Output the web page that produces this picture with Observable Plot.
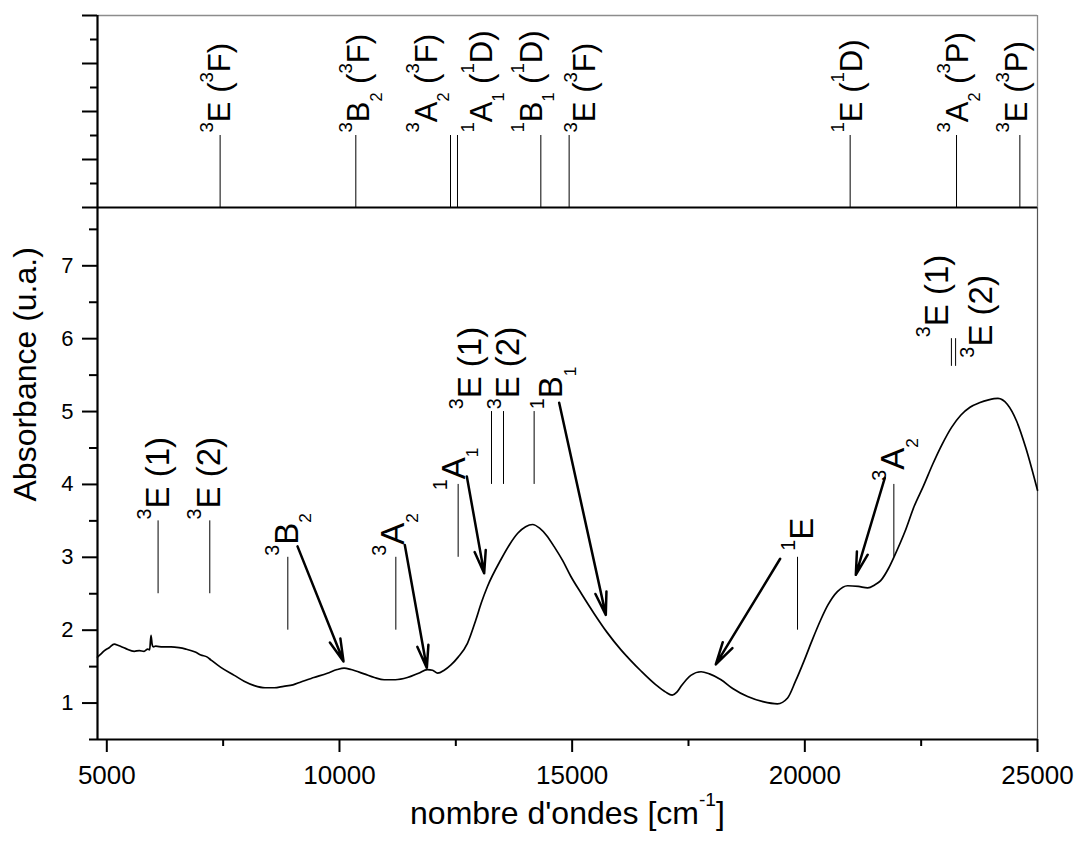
<!DOCTYPE html>
<html><head><meta charset="utf-8">
<script src="https://cdn.jsdelivr.net/npm/d3@7"></script>
<script src="https://cdn.jsdelivr.net/npm/@observablehq/plot@0.6"></script>
<style>
body{margin:0;background:#fff;}
#chart{position:relative;width:1076px;height:850px;font-family:"Liberation Sans",Arial,sans-serif;}
#chart svg{position:absolute;left:0;overflow:visible;}
</style></head><body><div id="chart"></div>
<script>
// ---- spectrum ----
const waveNumber = [4800, 4870, 4950, 5050, 5160, 5250, 5400, 5590, 5700, 5800,
  5880, 5920, 5950, 5975, 6000, 6050, 6200, 6380, 6550, 6700,
  6900, 7020, 7160, 7240, 7450, 7740, 7950, 8170, 8400, 8600,
  8800, 9000, 9170, 9450, 9740, 9950, 10100, 10250, 10530, 10750,
  10960, 11200, 11460, 11700, 11890, 12000, 12110, 12250, 12390, 12550,
  12750, 12930, 13050, 13180, 13470, 13650, 13830, 14000, 14150, 14300,
  14450, 14610, 14800, 14970, 15200, 15470, 15750, 16050, 16250, 16480,
  16800, 17010, 17150, 17250, 17340, 17550, 17770, 17950, 18200, 18450,
  18770, 19100, 19410, 19630, 19800, 19990, 20150, 20340, 20500, 20700,
  20920, 21150, 21350, 21500, 21630, 21800, 21920, 22150, 22350, 22550,
  22750, 22950, 23150, 23350, 23550, 23750, 23950, 24150, 24350, 24550,
  24750, 25000];
const absorbance = [1.63, 1.67, 1.72, 1.76, 1.81, 1.79, 1.75, 1.71, 1.72, 1.71,
  1.74, 1.73, 1.93, 1.80, 1.77, 1.78, 1.77, 1.77, 1.76, 1.74,
  1.70, 1.66, 1.63, 1.59, 1.49, 1.38, 1.30, 1.24, 1.21, 1.21,
  1.23, 1.25, 1.29, 1.35, 1.41, 1.46, 1.48, 1.46, 1.40, 1.35,
  1.32, 1.32, 1.35, 1.41, 1.46, 1.45, 1.41, 1.45, 1.52, 1.63,
  1.82, 2.14, 2.38, 2.60, 2.97, 3.17, 3.33, 3.42, 3.45, 3.40,
  3.30, 3.15, 2.95, 2.74, 2.50, 2.23, 1.97, 1.73, 1.59, 1.44,
  1.25, 1.15, 1.11, 1.15, 1.23, 1.38, 1.43, 1.40, 1.32, 1.20,
  1.09, 1.02, 0.99, 1.07, 1.30, 1.59, 1.85, 2.14, 2.35, 2.53,
  2.61, 2.60, 2.58, 2.62, 2.68, 2.85, 3.01, 3.35, 3.70, 3.98,
  4.28, 4.55, 4.78, 4.95, 5.06, 5.12, 5.16, 5.18, 5.10, 4.87,
  4.50, 3.92];

// ---- axes ----
const xTickValues = [5000, 10000, 15000, 20000, 25000];
const xMinorTicks = [7500, 12500, 17500, 22500];
const yTickValues = [1, 2, 3, 4, 5, 6, 7];
const yMinorTicks = [0.5, 1.5, 2.5, 3.5, 4.5, 5.5, 6.5, 7.5];
const topMajorTicks = [0, 1, 2, 3, 4];
const topMinorTicks = [0.5, 1.5, 2.5, 3.5];
const xTitle = "nombre d'ondes [cm^{-1}]";
const yTitle = "Absorbance (u.a.)";

// ---- top panel: calculated transitions ----
const topLinePos = [7435, 10351, 12386, 12536, 14327, 14935, 20974, 23260, 24621];
const topLabelPos = [7435, 10430, 11877, 13059, 14133, 15272, 21010, 23288, 24556];
const topLabels = ["^3E (^3F)", "^3B_2 (^3F)", "^3A_2 (^3F)", "^1A_1 (^1D)", "^1B_1 (^1D)",
  "^3E (^3F)", "^1E (^1D)", "^3A_2 (^3P)", "^3E (^3P)"];

// ---- bottom panel: assignments ----
const bandLinePos = [6102, 7213, 8890, 11211, 12550, 13267, 13525, 14183, 19843, 21913, 23150, 23240];
const bandLineLow = [2.5, 2.5, 2.0, 2.0, 3.0, 4.0, 4.0, 4.0, 2.0, 3.0, 5.62, 5.62];
const bandLineHigh = [3.5, 3.5, 3.0, 3.0, 4.0, 5.0, 5.0, 5.0, 3.0, 4.0, 6.0, 6.0];
const bandLabelPos = [6110, 7195, 8880, 11170, 12470, 12822, 13639, 14563, 19957, 21913, 22850, 23800];
const bandLabelY = [3.52, 3.52, 3.02, 3.02, 3.92, 5.03, 5.03, 5.03, 3.09, 4.05, 6.02, 5.74];
const bandLabels = ["^3E (1)", "^3E (2)", "^3B_2", "^3A_2", "^1A_1", "^3E (1)", "^3E (2)", "^1B_1",
  "^1E", "^3A_2", "^3E (1)", "^3E (2)"];

// ---- arrows ----
const arrowX1 = [9098, 11404, 12737, 14721, 19470, 21719];
const arrowY1 = [3.15, 3.17, 4.11, 5.12, 2.98, 4.09];
const arrowX2 = [10087, 11877, 13109, 15723, 18087, 21096];
const arrowY2 = [1.57, 1.48, 2.78, 2.21, 1.53, 2.76];

const FONT = "'Liberation Sans', Arial, sans-serif";
const xDomain = [4800, 25000];
const noLabel = () => "";

const topPlot = Plot.plot({
  width: 1076, height: 208,
  marginTop: 15, marginBottom: 1, marginLeft: 97, marginRight: 39,
  style: {background: "transparent", fontFamily: FONT, overflow: "visible"},
  x: {domain: xDomain, axis: null},
  y: {domain: [0, 4]},
  marks: [
    Plot.ruleY([4], {stroke: "#8c8c8c", strokeWidth: 1.3}),
    Plot.ruleX([25000], {stroke: "#8c8c8c", strokeWidth: 1.3}),
    Plot.ruleX(topLinePos, {x: d => d, y1: 0, y2: 1.5, stroke: "black", strokeWidth: 1}),
    Plot.text(topLabels, {x: topLabelPos, y: 1.5, text: d => d, rotate: -90, textAnchor: "start",
      dy: -3, fontSize: 31, fill: "black"}),
    Plot.axisY(topMajorTicks, {tickSize: 15, tickFormat: noLabel, strokeWidth: 2, label: null}),
    Plot.axisY(topMinorTicks, {tickSize: 7, tickFormat: noLabel, strokeWidth: 2, label: null}),
    Plot.ruleY([0], {stroke: "black", strokeWidth: 2.2}),
    Plot.ruleX([4800], {stroke: "black", strokeWidth: 2.2})
  ]
});

const bottomPlot = Plot.plot({
  width: 1076, height: 643,
  marginTop: 0, marginBottom: 111, marginLeft: 97, marginRight: 39,
  style: {background: "transparent", fontFamily: FONT, overflow: "visible"},
  x: {domain: xDomain},
  y: {domain: [0.5, 7.8]},
  marks: [
    Plot.ruleX([25000], {stroke: "#555", strokeWidth: 1.2}),
    Plot.line(absorbance, {x: waveNumber, y: absorbance, curve: "monotone-x", stroke: "black", strokeWidth: 1.7}),
    Plot.ruleX(bandLinePos, {x: d => d, y1: bandLineLow, y2: bandLineHigh, stroke: "black", strokeWidth: 1}),
    Plot.arrow(arrowX1, {x1: arrowX1, y1: arrowY1, x2: arrowX2, y2: arrowY2, stroke: "black",
      strokeWidth: 2.5, headLength: 14, headAngle: 28}),
    Plot.text(bandLabels, {x: bandLabelPos, y: bandLabelY, text: d => d, rotate: -90, textAnchor: "start",
      fontSize: 33, fill: "black"}),
    Plot.axisX(xTickValues, {tickSize: 13, tickPadding: 13, fontSize: 26, strokeWidth: 2,
      tickFormat: d => String(d), label: null}),
    Plot.axisX(xMinorTicks, {tickSize: 7, tickFormat: noLabel, strokeWidth: 2, label: null}),
    Plot.axisY(yTickValues, {tickSize: 15, tickPadding: 9, fontSize: 22, strokeWidth: 2,
      tickFormat: d => String(d), label: null}),
    Plot.axisY(yMinorTicks, {tickSize: 8, tickFormat: noLabel, strokeWidth: 2, label: null}),
    Plot.ruleY([0.5], {stroke: "black", strokeWidth: 2.2}),
    Plot.ruleX([4800], {stroke: "black", strokeWidth: 2.2}),
    Plot.text([xTitle], {text: d => d, frameAnchor: "bottom", dy: 84, fontSize: 32, fill: "black"}),
    Plot.text([yTitle], {text: d => d, frameAnchor: "left", rotate: -90, dx: -72, dy: 28, fontSize: 32, fill: "black"})
  ]
});

const chart = document.getElementById("chart");
topPlot.style.top = "0px";
bottomPlot.style.top = "207px";
chart.appendChild(topPlot);
chart.appendChild(bottomPlot);

// Convert ^x / ^{..} / _x markup into real superscript / subscript tspans
function richText(svg) {
  d3.select(svg).selectAll("text").each(function () {
    const el = this;
    const s = el.textContent;
    if (!/[\^_]/.test(s)) return;
    const fs = parseFloat(getComputedStyle(el).fontSize) || 16;
    const tokens = [];
    let i = 0;
    while (i < s.length) {
      const c = s[i];
      if (c === "^" || c === "_") {
        let t;
        if (s[i + 1] === "{") { const j = s.indexOf("}", i + 2); t = s.slice(i + 2, j); i = j + 1; }
        else { t = s[i + 1]; i += 2; }
        tokens.push({t, k: c});
      } else {
        let j = i;
        while (j < s.length && s[j] !== "^" && s[j] !== "_") j++;
        tokens.push({t: s.slice(i, j), k: ""});
        i = j;
      }
    }
    while (el.firstChild) el.removeChild(el.firstChild);
    el.setAttribute("xml:space", "preserve");
    el.style.whiteSpace = "pre";
    let shift = 0;
    for (const tok of tokens) {
      const ts = document.createElementNS("http://www.w3.org/2000/svg", "tspan");
      let target = 0, size = null;
      if (tok.k === "^") { target = -0.56 * fs; size = 0.6 * fs; }
      else if (tok.k === "_") { target = 0.40 * fs; size = 0.52 * fs; }
      ts.setAttribute("dy", (target - shift).toFixed(2));
      shift = target;
      if (size) ts.setAttribute("font-size", size.toFixed(2));
      ts.textContent = tok.t;
      el.appendChild(ts);
    }
  });
}
richText(topPlot);
richText(bottomPlot);
</script></body></html>
